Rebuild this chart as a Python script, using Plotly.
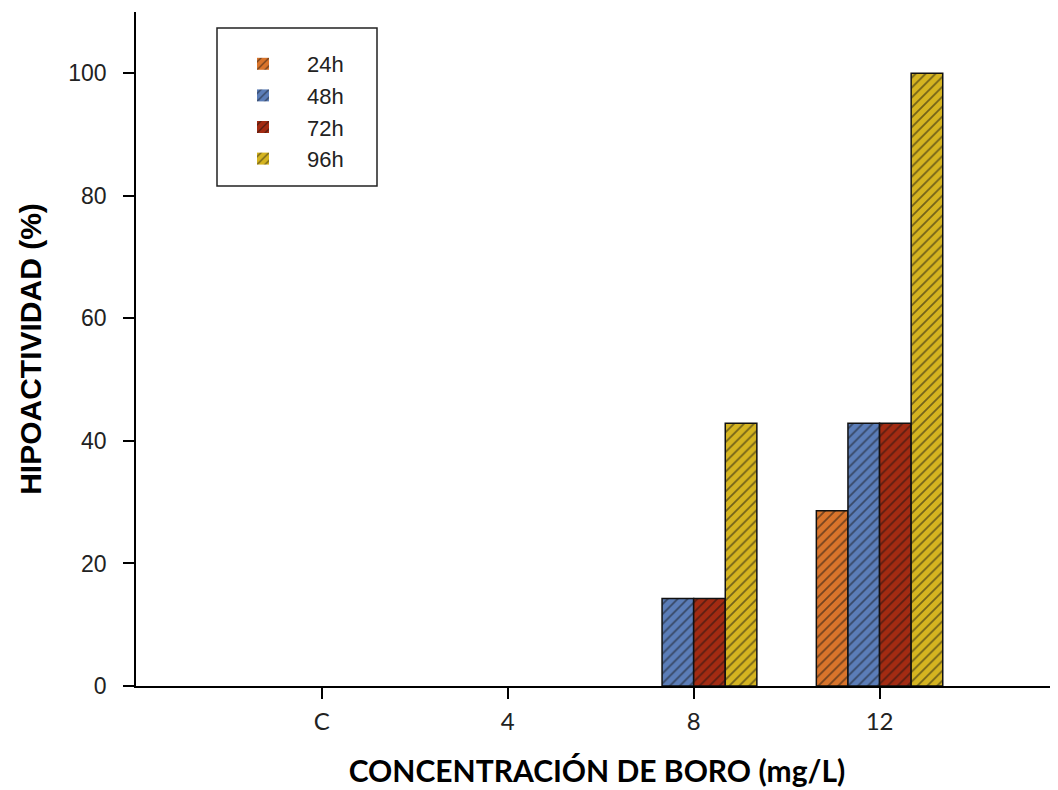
import plotly.graph_objects as go

categories = ["C", "4", "8", "12"]
series_names = ["24h", "48h", "72h", "96h"]
v24 = [0, 0, 0, 28.6]
v48 = [0, 0, 14.3, 42.9]
v72 = [0, 0, 14.3, 42.9]
v96 = [0, 0, 42.9, 100]
colors = ["#D9742B", "#5B7DB8", "#A32B12", "#D5B420"]
y_ticks = [0, 20, 40, 60, 80, 100]

# page has an 8px body margin; figure is sized to fill the remaining window
OFF = 8
W, H = 1058 - OFF, 790 - OFF
L, R, T, B = 136 - OFF, 0, 12 - OFF, 790 - 686
pw, ph = W - L - R, H - T - B

def px_x(p):  # page pixel -> paper x
    return (p - OFF - L) / pw

def px_y(p):  # page pixel -> paper y
    return (H - B - (p - OFF)) / ph

fig = go.Figure()
for name, vals, col in zip(series_names, [v24, v48, v72, v96], colors):
    fig.add_trace(go.Bar(
        x=list(range(len(categories))), y=vals, name=name,
        marker=dict(color=col,
                    line=dict(color="#111111", width=[1.5 if v > 0 else 0 for v in vals]),
                    pattern=dict(shape="/", fgcolor="#111111", size=7, solidity=0.25)),
    ))

# legend frame
fig.add_shape(type="rect", xref="paper", yref="paper",
              x0=px_x(217), x1=px_x(377), y0=px_y(186), y1=px_y(28),
              line=dict(color="#222222", width=1.5), fillcolor="white", layer="below")

fig.update_layout(
    width=W, height=H,
    margin=dict(l=L, r=R, t=T, b=B, autoexpand=False),
    plot_bgcolor="white", paper_bgcolor="white",
    barmode="group", bargap=0.32, bargroupgap=0,
    font=dict(family="Liberation Sans, Arial", color="#222222"),
    showlegend=True,
    legend=dict(x=px_x(219), y=px_y(43), xanchor="left", yanchor="top",
                borderwidth=0, bgcolor="rgba(0,0,0,0)",
                font=dict(size=22, family="Liberation Sans, Arial", color="#222222"),
                tracegroupgap=0, itemwidth=78),
    xaxis=dict(
        range=[-1, 3.96], tickmode="array", tickvals=list(range(len(categories))),
        ticktext=categories, showline=True, linecolor="black", linewidth=1.5,
        ticks="outside", ticklen=11, tickcolor="black", tickwidth=1.5,
        ticklabelstandoff=2, automargin=False,
        showgrid=False, zeroline=False,
        tickfont=dict(family="Lato, Liberation Sans", size=24, color="#222222"),
        title=dict(text="<b>CONCENTRACIÓN DE BORO (mg/L)</b>",
                   font=dict(family="Lato, Liberation Sans", size=30, color="black"),
                   standoff=27),
    ),
    yaxis=dict(
        range=[0, 110], tickmode="array", tickvals=y_ticks,
        showline=True, linecolor="black", linewidth=1.5,
        ticks="outside", ticklen=11, tickcolor="black", tickwidth=1.5,
        ticklabelstandoff=12, automargin=False,
        showgrid=False, zeroline=False,
        tickfont=dict(size=23, color="#222222"),
        title=dict(text="<b>HIPOACTIVIDAD (%)</b>",
                   font=dict(size=30, color="black"), standoff=18),
    ),
)

fig.write_html("out.html")
